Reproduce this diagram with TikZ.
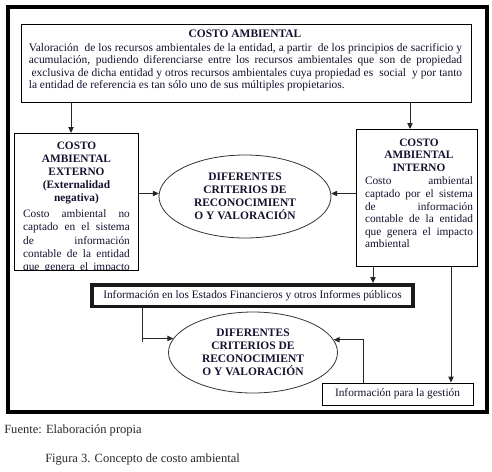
\documentclass[tikz,border=0pt]{standalone}
\usepackage{fontspec}
\setmainfont{Liberation Serif}
\usetikzlibrary{arrows.meta,shapes.geometric}
\definecolor{ink}{RGB}{18,18,48}
\begin{document}
\begin{tikzpicture}[x=0.75pt,y=-0.75pt,
  box/.style={draw=black, line width=0.7pt, inner sep=0pt},
  arr/.style={draw=black!85, line width=0.75pt, -{Triangle[length=4.5pt,width=4pt]}},
  ln/.style={draw=black!85, line width=0.75pt},
  txt/.style={inner sep=0pt, text=ink},
  ttl/.style={inner sep=0pt, text=ink, align=center, font=\fontsize{8.5}{9.9}\selectfont\bfseries},
  crit/.style={ellipse, draw=black!80, line width=0.6pt, inner sep=0pt, align=center,
    text=ink, font=\fontsize{8.6}{9.75}\selectfont\bfseries}]
\useasboundingbox (0,0) rectangle (492,471);
% outer frame
\draw[line width=3pt] (8,7) rectangle (486.5,411.5);

% main box
\node[box, anchor=north west, minimum width=337.5pt, minimum height=58.5pt] (main) at (21,24) {};
\node[txt, anchor=base, font=\fontsize{8.6}{9.4}\selectfont\bfseries] (maintitle) at (245,37.7) {COSTO AMBIENTAL};
\node[txt, anchor=north, text width=325pt, align=justify, font=\fontsize{8.6}{9.4}\selectfont] (maintxt) at (245.5,42.8)
 {Valoración\ \ de los recursos ambientales de la entidad, a partir\ \ de los principios de sacrificio y\linebreak
 acumulación, pudiendo diferenciarse entre los recursos ambientales que son de propiedad\linebreak
 \hspace*{2pt}exclusiva de dicha entidad y otros recursos ambientales cuya propiedad es\ \ social\ \ y por tanto\linebreak
 la entidad de referencia es tan sólo uno de sus múltiples propietarios.};

% external box
\node[box, anchor=north west, minimum width=93pt, minimum height=102.75pt] (ext) at (14,133) {};
\node[ttl, anchor=north] (exttitle) at (76.5,141.3) {COSTO\\AMBIENTAL\\EXTERNO\\(Externalidad\\negativa)};
\begin{scope}
\clip (14,133) rectangle (138,269);
\node[txt, anchor=north, text width=80pt, align=justify, font=\fontsize{8.5}{9.9}\selectfont] (exttxt) at (76.5,209.5)
 {\parfillskip=0pt Costo ambiental no\linebreak captado en el sistema\linebreak de información\linebreak contable de la entidad\linebreak que genera el impacto\par};
\end{scope}

% internal box
\node[box, anchor=north west, minimum width=90.75pt, minimum height=102.75pt] (int) at (356,129) {};
\node[ttl, anchor=north, font=\fontsize{8.5}{9.45}\selectfont\bfseries] (inttitle) at (419,138.3) {COSTO\\AMBIENTAL\\INTERNO};
\node[txt, anchor=north, text width=81pt, align=justify, font=\fontsize{8.5}{9.45}\selectfont] (inttxt) at (419,176.8)
 {Costo ambiental\linebreak captado por el sistema\linebreak de información\linebreak contable de la entidad\linebreak que genera el impacto\linebreak ambiental};

% ellipses
\node[crit, minimum width=129pt, minimum height=62.25pt] (e1) at (245,196.5)
 {DIFERENTES\\CRITERIOS DE\\RECONOCIMIENT\\O Y VALORACIÓN};
\node[crit, minimum width=126.75pt, minimum height=60.75pt] (e2) at (253,352.5)
 {DIFERENTES\\CRITERIOS DE\\RECONOCIMIENT\\O Y VALORACIÓN};

% information boxes
\node[draw=black!90, line width=2.6pt, minimum width=241pt, minimum height=16.1pt, inner sep=0pt,
  text=ink, font=\fontsize{8.5}{10}\selectfont] (ef) at (252.5,295.5)
 {Información en los Estados Financieros y otros Informes públicos};
\node[box, minimum width=113.25pt, minimum height=16.5pt, text=ink, font=\fontsize{8.5}{10}\selectfont] (ges) at (397.5,394)
 {Información para la gestión};

% helper coordinates
\coordinate (c71) at (71,0);
\coordinate (c410) at (410,0);
\coordinate (c373) at (373,0);
\coordinate (c451) at (451,0);
\coordinate (c142) at (142,0);
\coordinate (c363) at (363,0);

% connectors
\draw[arr] (main.south -| c71) -- (ext.north -| c71);
\draw[arr] (main.south -| c410) -- (int.north -| c410);
\draw[arr] (ext.east |- e1.178) -- (e1.178);
\draw[arr] (int.west |- e1.2) -- (e1.2);
\draw[arr] (int.south -| c373) -- (ef.north -| c373);
\draw[arr] (int.south -| c451) -- (ges.north -| c451);
\draw[ln] (ef.south -| c142) -- ([yshift=-3pt]c142 |- e2.170.4);
\draw[arr] (c142 |- e2.170.4) -- (e2.170.4);
\draw[arr] (ges.north -| c363) |- (e2.9.6);

% captions
\node[anchor=west, inner sep=0pt, text=black!85, font=\fontsize{9.4}{11}\selectfont] (src) at (4,430) {Fuente: Elaboración propia};
\node[anchor=west, inner sep=0pt, text=black!85, font=\fontsize{9.4}{11}\selectfont] (fig) at (45,459) {Figura 3. Concepto de costo ambiental};
\end{tikzpicture}
\end{document}
